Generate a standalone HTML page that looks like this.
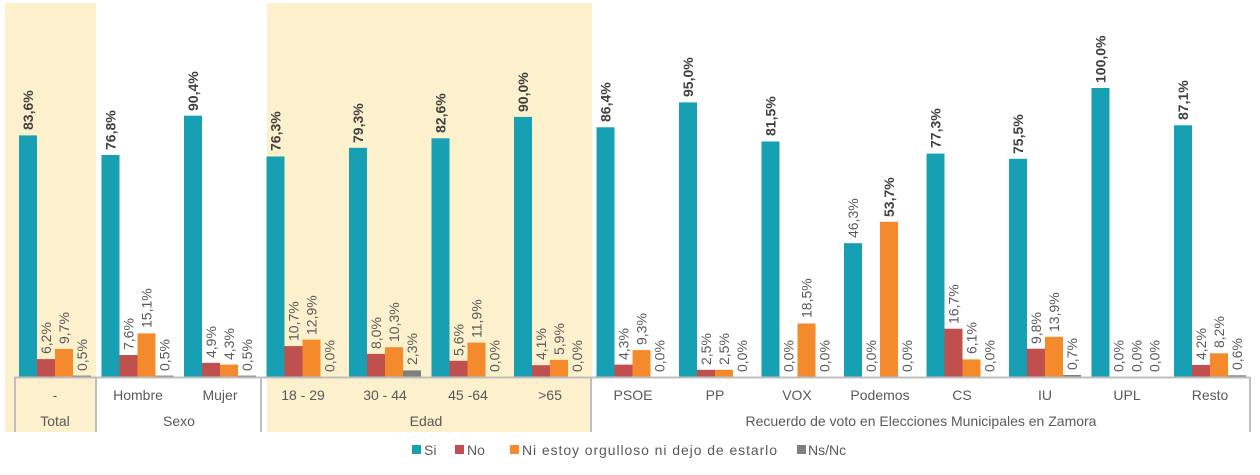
<!DOCTYPE html>
<html><head><meta charset="utf-8"><style>
body{margin:0;background:#fff}
svg text{font-family:"Liberation Sans",sans-serif}
.v{font-size:14px;fill:#595959}
.b{font-size:14px;fill:#404040;font-weight:bold}
.c{font-size:14px;fill:#595959;text-anchor:middle}
</style></head><body>
<svg width="1260" height="470" xmlns="http://www.w3.org/2000/svg">
<rect x="5" y="3" width="91" height="429" fill="#fdf0cc"/>
<rect x="267" y="3" width="325" height="429" fill="#fdf0cc"/>
<g fill="#17a0b3">
<rect x="19" y="135.4" width="18" height="241.6"/>
<rect x="101.5" y="155" width="18" height="222"/>
<rect x="184" y="115.7" width="18" height="261.3"/>
<rect x="266.5" y="156.5" width="18" height="220.5"/>
<rect x="349" y="147.8" width="18" height="229.2"/>
<rect x="431.5" y="138.3" width="18" height="238.7"/>
<rect x="514" y="116.9" width="18" height="260.1"/>
<rect x="596.5" y="127.3" width="18" height="249.7"/>
<rect x="679" y="102.4" width="18" height="274.6"/>
<rect x="761.5" y="141.5" width="18" height="235.5"/>
<rect x="844" y="243.2" width="18" height="133.8"/>
<rect x="926.5" y="153.6" width="18" height="223.4"/>
<rect x="1009" y="158.8" width="18" height="218.2"/>
<rect x="1091.5" y="88" width="18" height="289"/>
<rect x="1174" y="125.3" width="18" height="251.7"/>
</g>
<g fill="#c0504d">
<rect x="37" y="359.1" width="18" height="17.9"/>
<rect x="119.5" y="355" width="18" height="22"/>
<rect x="202" y="362.8" width="18" height="14.2"/>
<rect x="284.5" y="346.1" width="18" height="30.9"/>
<rect x="367" y="353.9" width="18" height="23.1"/>
<rect x="449.5" y="360.8" width="18" height="16.2"/>
<rect x="532" y="365.2" width="18" height="11.8"/>
<rect x="614.5" y="364.6" width="18" height="12.4"/>
<rect x="697" y="369.8" width="18" height="7.2"/>
<rect x="944.5" y="328.7" width="18" height="48.3"/>
<rect x="1027" y="348.7" width="18" height="28.3"/>
<rect x="1192" y="364.9" width="18" height="12.1"/>
</g>
<g fill="#f58a2d">
<rect x="55" y="349" width="18" height="28"/>
<rect x="137.5" y="333.4" width="18" height="43.6"/>
<rect x="220" y="364.6" width="18" height="12.4"/>
<rect x="302.5" y="339.7" width="18" height="37.3"/>
<rect x="385" y="347.2" width="18" height="29.8"/>
<rect x="467.5" y="342.6" width="18" height="34.4"/>
<rect x="550" y="359.9" width="18" height="17.1"/>
<rect x="632.5" y="350.1" width="18" height="26.9"/>
<rect x="715" y="369.8" width="18" height="7.2"/>
<rect x="797.5" y="323.5" width="18" height="53.5"/>
<rect x="880" y="221.8" width="18" height="155.2"/>
<rect x="962.5" y="359.4" width="18" height="17.6"/>
<rect x="1045" y="336.8" width="18" height="40.2"/>
<rect x="1210" y="353.3" width="18" height="23.7"/>
</g>
<g fill="#7f7f7f">
<rect x="73" y="375.6" width="18" height="1.4"/>
<rect x="155.5" y="375.6" width="18" height="1.4"/>
<rect x="238" y="375.6" width="18" height="1.4"/>
<rect x="403" y="370.4" width="18" height="6.6"/>
<rect x="1063" y="375" width="18" height="2"/>
<rect x="1228" y="375.3" width="18" height="1.7"/>
</g>
<!-- labels -->
<text class="b" transform="translate(33,130) rotate(-90)">83,6%</text>
<text class="v" transform="translate(51,354) rotate(-90)">6,2%</text>
<text class="v" transform="translate(69,344) rotate(-90)">9,7%</text>
<text class="v" transform="translate(87,371) rotate(-90)">0,5%</text>

<text class="b" transform="translate(115.5,150) rotate(-90)">76,8%</text>
<text class="v" transform="translate(133.5,350) rotate(-90)">7,6%</text>
<text class="v" transform="translate(151.5,328) rotate(-90)">15,1%</text>
<text class="v" transform="translate(169.5,371) rotate(-90)">0,5%</text>

<text class="b" transform="translate(198,111) rotate(-90)">90,4%</text>
<text class="v" transform="translate(216,358) rotate(-90)">4,9%</text>
<text class="v" transform="translate(234,360) rotate(-90)">4,3%</text>
<text class="v" transform="translate(252,371) rotate(-90)">0,5%</text>

<text class="b" transform="translate(280.5,151) rotate(-90)">76,3%</text>
<text class="v" transform="translate(298.5,341) rotate(-90)">10,7%</text>
<text class="v" transform="translate(316.5,335) rotate(-90)">12,9%</text>
<text class="v" transform="translate(334.5,372) rotate(-90)">0,0%</text>

<text class="b" transform="translate(363,143) rotate(-90)">79,3%</text>
<text class="v" transform="translate(381,349) rotate(-90)">8,0%</text>
<text class="v" transform="translate(399,342) rotate(-90)">10,3%</text>
<text class="v" transform="translate(417,365) rotate(-90)">2,3%</text>

<text class="b" transform="translate(445.5,133) rotate(-90)">82,6%</text>
<text class="v" transform="translate(463.5,356) rotate(-90)">5,6%</text>
<text class="v" transform="translate(481.5,338) rotate(-90)">11,9%</text>
<text class="v" transform="translate(499.5,372) rotate(-90)">0,0%</text>

<text class="b" transform="translate(528,112) rotate(-90)">90,0%</text>
<text class="v" transform="translate(546,360) rotate(-90)">4,1%</text>
<text class="v" transform="translate(564,355) rotate(-90)">5,9%</text>
<text class="v" transform="translate(582,372) rotate(-90)">0,0%</text>

<text class="b" transform="translate(610.5,122) rotate(-90)">86,4%</text>
<text class="v" transform="translate(628.5,360) rotate(-90)">4,3%</text>
<text class="v" transform="translate(646.5,345) rotate(-90)">9,3%</text>
<text class="v" transform="translate(664.5,372) rotate(-90)">0,0%</text>

<text class="b" transform="translate(693,97) rotate(-90)">95,0%</text>
<text class="v" transform="translate(711,365) rotate(-90)">2,5%</text>
<text class="v" transform="translate(729,365) rotate(-90)">2,5%</text>
<text class="v" transform="translate(747,372) rotate(-90)">0,0%</text>

<text class="b" transform="translate(775.5,136) rotate(-90)">81,5%</text>
<text class="v" transform="translate(793.5,372) rotate(-90)">0,0%</text>
<text class="v" transform="translate(811.5,318) rotate(-90)">18,5%</text>
<text class="v" transform="translate(829.5,372) rotate(-90)">0,0%</text>

<text class="v" transform="translate(858,238) rotate(-90)">46,3%</text>
<text class="v" transform="translate(876,372) rotate(-90)">0,0%</text>
<text class="b" transform="translate(894,217) rotate(-90)">53,7%</text>
<text class="v" transform="translate(912,372) rotate(-90)">0,0%</text>

<text class="b" transform="translate(940.5,148) rotate(-90)">77,3%</text>
<text class="v" transform="translate(958.5,324) rotate(-90)">16,7%</text>
<text class="v" transform="translate(976.5,354) rotate(-90)">6,1%</text>
<text class="v" transform="translate(994.5,372) rotate(-90)">0,0%</text>

<text class="b" transform="translate(1023,154) rotate(-90)">75,5%</text>
<text class="v" transform="translate(1041,344) rotate(-90)">9,8%</text>
<text class="v" transform="translate(1059,332) rotate(-90)">13,9%</text>
<text class="v" transform="translate(1077,370) rotate(-90)">0,7%</text>

<text class="b" transform="translate(1105.5,83) rotate(-90)">100,0%</text>
<text class="v" transform="translate(1123.5,372) rotate(-90)">0,0%</text>
<text class="v" transform="translate(1141.5,372) rotate(-90)">0,0%</text>
<text class="v" transform="translate(1159.5,372) rotate(-90)">0,0%</text>

<text class="b" transform="translate(1188,120) rotate(-90)">87,1%</text>
<text class="v" transform="translate(1206,360) rotate(-90)">4,2%</text>
<text class="v" transform="translate(1224,348) rotate(-90)">8,2%</text>
<text class="v" transform="translate(1242,370) rotate(-90)">0,6%</text>
<!-- axis -->
<g stroke="#bfbfbf" stroke-width="2">
<line x1="14" y1="377.5" x2="1250" y2="377.5"/>
<line x1="15" y1="377" x2="15" y2="432"/>
<line x1="96" y1="377" x2="96" y2="432"/>
<line x1="261" y1="377" x2="261" y2="432"/>
<line x1="591" y1="377" x2="591" y2="432"/>
<line x1="1250" y1="377" x2="1250" y2="432"/>
</g>
<text class="c" x="55" y="400">-</text>
<text class="c" x="138" y="400">Hombre</text>
<text class="c" x="220" y="400">Mujer</text>
<text class="c" x="303" y="400">18 - 29</text>
<text class="c" x="385" y="400">30 - 44</text>
<text class="c" x="468" y="400">45 -64</text>
<text class="c" x="550" y="400">&gt;65</text>
<text class="c" x="633" y="400">PSOE</text>
<text class="c" x="715" y="400">PP</text>
<text class="c" x="797" y="400">VOX</text>
<text class="c" x="880" y="400">Podemos</text>
<text class="c" x="962" y="400">CS</text>
<text class="c" x="1045" y="400">IU</text>
<text class="c" x="1127" y="400">UPL</text>
<text class="c" x="1210" y="400">Resto</text>
<text class="c" x="55" y="426">Total</text>
<text class="c" x="179" y="426">Sexo</text>
<text class="c" x="426" y="426">Edad</text>
<text class="c" x="921" y="426">Recuerdo de voto en Elecciones Municipales en Zamora</text>
<!-- legend -->
<rect x="412" y="445" width="9" height="9" fill="#17a0b3"/>
<text class="v" x="424" y="455">Si</text>
<rect x="455" y="445" width="9" height="9" fill="#c0504d"/>
<text class="v" x="467" y="455">No</text>
<rect x="510" y="445" width="9" height="9" fill="#f58a2d"/>
<text class="v" x="522" y="455" textLength="255">Ni estoy orgulloso ni dejo de estarlo</text>
<rect x="797" y="445" width="9" height="9" fill="#7f7f7f"/>
<text class="v" x="808" y="455">Ns/Nc</text>
</svg>
</body></html>
